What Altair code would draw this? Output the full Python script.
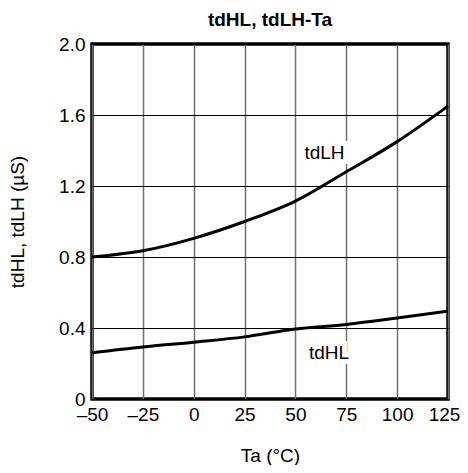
import altair as alt
import pandas as pd

ta = [-50, -25, 0, 25, 50, 75, 100, 125]
tdlh = [0.80, 0.835, 0.905, 1.0, 1.115, 1.28, 1.45, 1.65]
tdhl = [0.26, 0.293, 0.32, 0.35, 0.394, 0.42, 0.456, 0.495]

label_names = ["tdLH", "tdHL"]
label_x = [64.3, 66.5]
label_y = [1.385, 0.258]

x_ticks = [-50, -25, 0, 25, 50, 75, 100, 125]
y_ticks = [0, 0.4, 0.8, 1.2, 1.6, 2.0]

df = pd.DataFrame({
    "Ta": ta * 2,
    "v": tdlh + tdhl,
    "s": ["tdLH"] * len(ta) + ["tdHL"] * len(ta),
})
lab = pd.DataFrame({"name": label_names, "Ta": label_x, "v": label_y})

FONT = "Liberation Sans"
FS = 19

x = alt.X("Ta:Q", scale=alt.Scale(domain=[-50, 125], nice=False),
          axis=alt.Axis(values=x_ticks, title="Ta (°C)", grid=True, gridColor="#707070",
                        gridWidth=1.5, gridOpacity=1, ticks=False, domain=False,
                        labelPadding=6, titlePadding=22, labelFlush=False,
                        labelOffset={"condition": {"test": "datum.value == 125", "value": -4}, "value": 0},
                        labelExpr="replace(format(datum.value, 'd'), /[-\u2212]/, '\u2013')"))
y = alt.Y("v:Q", scale=alt.Scale(domain=[0, 2.0], nice=False),
          axis=alt.Axis(values=y_ticks, title="tdHL, tdLH (µS)", grid=True, gridColor="#000000",
                        gridWidth=1, gridOpacity=1, ticks=False, domain=False,
                        labelPadding=7, titlePadding=31, labelFlush=False,
                        labelExpr="datum.value == 0 ? '0' : format(datum.value, '.1f')"))

lines = alt.Chart(df).mark_line(color="black", strokeWidth=3, interpolate="monotone").encode(
    x=x, y=y, detail="s:N")

halo = alt.Chart(lab).mark_text(font=FONT, fontSize=FS, color="white", stroke="white",
                                strokeWidth=10, align="center", baseline="middle").encode(
    x="Ta:Q", y="v:Q", text="name:N")
txt = alt.Chart(lab).mark_text(font=FONT, fontSize=FS, color="black",
                               align="center", baseline="middle").encode(
    x="Ta:Q", y="v:Q", text="name:N")

chart = alt.layer(lines, halo, txt).properties(
    width=356, height=355,
    title=alt.TitleParams("tdHL, tdLH-Ta", font=FONT, fontSize=FS, fontWeight="bold",
                          anchor="middle", offset=5, color="black"),
    autosize=alt.AutoSizeParams(type="none"),
    padding={"left": 84, "top": 36, "right": 12, "bottom": 66},
).configure_view(stroke="black", strokeWidth=3.5).configure_axis(
    labelFont=FONT, titleFont=FONT, labelFontSize=FS, titleFontSize=FS,
    labelColor="black", titleColor="black", titleFontWeight="normal"
)

chart.save("out.html", embed_options={"renderer": "svg", "actions": False})
